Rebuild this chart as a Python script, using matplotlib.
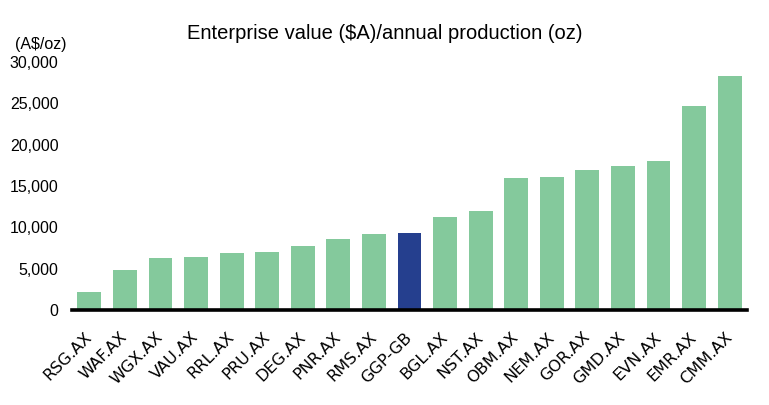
import matplotlib.pyplot as plt
import numpy as np
from matplotlib.ticker import FuncFormatter

# EV / annual production by company (A$/oz)
companies = ['RSG.AX', 'WAF.AX', 'WGX.AX', 'VAU.AX', 'RRL.AX', 'PRU.AX', 'DEG.AX',
             'PNR.AX', 'RMS.AX', 'GGP-GB', 'BGL.AX', 'NST.AX', 'OBM.AX', 'NEM.AX',
             'GOR.AX', 'GMD.AX', 'EVN.AX', 'EMR.AX', 'CMM.AX']
ev_per_oz = [2200, 4850, 6300, 6400, 6900, 7000, 7750, 8600, 9200, 9300,
             11250, 11950, 15950, 16100, 16950, 17400, 18000, 24700, 28300]
highlight = 'GGP-GB'

green = '#84C99C'
navy = '#253F8E'

plt.rcParams['font.family'] = ['Liberation Sans', 'DejaVu Sans']

fig = plt.figure(figsize=(7.69, 4.05), dpi=100)
ax = fig.add_axes([0.094, 0.235, 0.877, 0.612])

x = np.arange(len(companies))
colors = [navy if c == highlight else green for c in companies]
ax.bar(x, ev_per_oz, width=0.67, color=colors, zorder=2)

ax.set_xlim(-0.48, len(companies) - 0.52)
ax.set_ylim(0, 30000)
ax.set_yticks(np.arange(0, 30001, 5000))
ax.yaxis.set_major_formatter(FuncFormatter(lambda v, p: f'{int(v):,}'))
ax.tick_params(axis='y', length=0, labelsize=11.5, pad=10)
ax.tick_params(axis='x', length=0, pad=18)

ax.set_xticks(x)
ax.set_xticklabels(companies, rotation=45, ha='right', va='center',
                   rotation_mode='anchor', family='DejaVu Sans', fontsize=11.6)

for s in ['top', 'right', 'left']:
    ax.spines[s].set_visible(False)
ax.spines['bottom'].set_linewidth(2.6)
ax.spines['bottom'].set_color('black')
ax.spines['bottom'].set_zorder(3)

fig.text(0.5, 0.918, 'Enterprise value ($A)/annual production (oz)',
         ha='center', va='center', fontsize=14.5)
fig.text(0.02, 0.89, '(A$/oz)', ha='left', va='center', fontsize=11.5)

fig.savefig('out.png', dpi=100)
